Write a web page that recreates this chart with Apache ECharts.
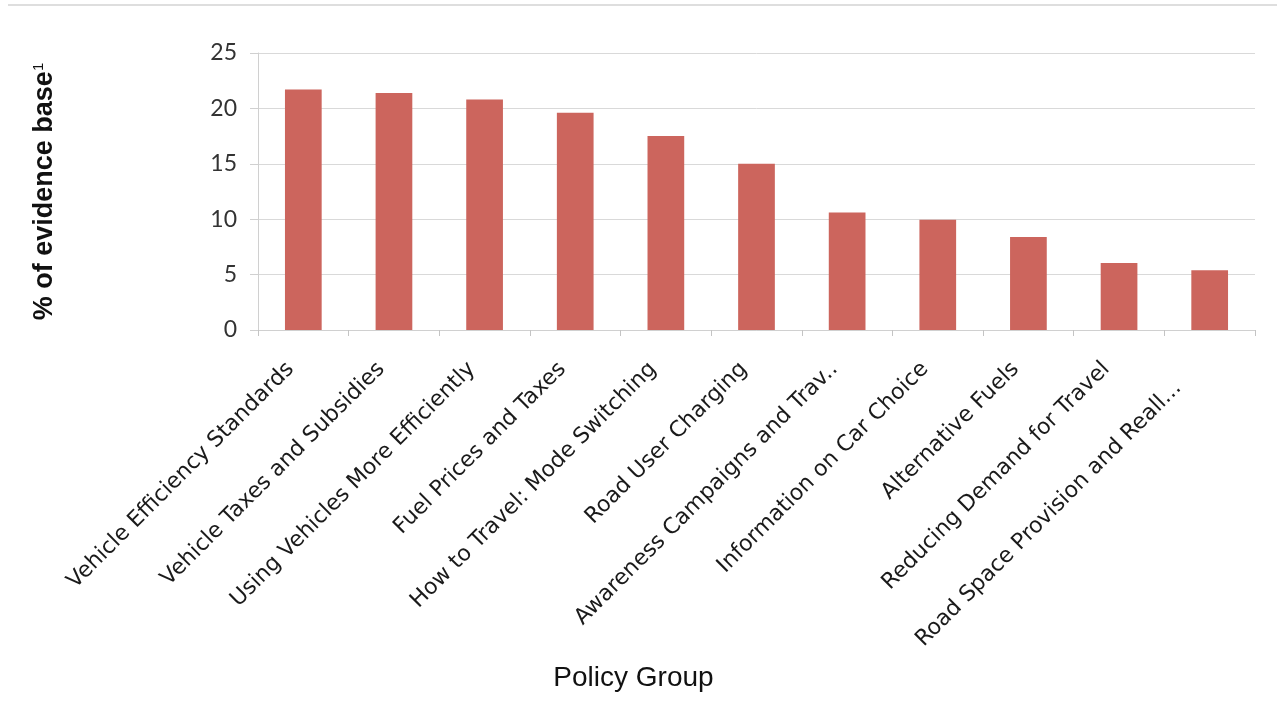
<!DOCTYPE html>
<html>
<head>
<meta charset="utf-8">
<script src="https://cdn.jsdelivr.net/npm/echarts@6/dist/echarts.min.js"></script>
<style>
  html, body { margin: 0; padding: 0; background: #ffffff; }
  #chart { width: 1277px; height: 713px; }
</style>
</head>
<body>
<div id="chart"></div>
<script>
// Policy groups (as labelled on the axis)
const categories = [
  'Vehicle Efficiency Standards',
  'Vehicle Taxes and Subsidies',
  'Using Vehicles More Efficiently',
  'Fuel Prices and Taxes',
  'How to Travel: Mode Switching',
  'Road User Charging',
  'Awareness Campaigns and Trav..',
  'Information on Car Choice',
  'Alternative Fuels',
  'Reducing Demand for Travel',
  'Road Space Provision and Reall...'
];

// Share of the evidence base per policy group (%)
const evidenceShare = [21.7, 21.4, 20.8, 19.6, 17.5, 15.0, 10.6, 9.95, 8.4, 6.05, 5.4];

// Value axis ticks
const yTicks = [0, 5, 10, 15, 20, 25];

// The last (truncated) label sits a little lower along its slant
const categoryItems = categories.map((name, i) => (
  i === categories.length - 1
    ? { value: name, textStyle: { padding: [6, 45, 0, 0] } }
    : { value: name }
));

const chart = echarts.init(document.getElementById('chart'));

chart.setOption({
  backgroundColor: '#ffffff',
  animation: false,
  grid: {
    left: 258,
    right: 22,
    top: 53,
    bottom: 383,
    containLabel: false,
    outerBoundsMode: 'none'
  },
  graphic: [{
    type: 'line',
    shape: { x1: 8, y1: 5, x2: 1277, y2: 5 },
    style: { stroke: '#dedede', lineWidth: 2 },
    silent: true
  }],
  xAxis: {
    type: 'category',
    data: categoryItems,
    name: 'Policy Group',
    nameLocation: 'middle',
    nameGap: 334,
    nameTextStyle: {
      fontFamily: 'Liberation Sans',
      fontSize: 28,
      color: '#111111',
      padding: [0, 246, 0, 0]
    },
    axisLine: { lineStyle: { color: '#d0d0d0', width: 1 } },
    axisTick: {
      show: true,
      alignWithLabel: false,
      length: 6,
      lineStyle: { color: '#c4c4c4' }
    },
    axisLabel: {
      interval: 0,
      rotate: 45,
      margin: 23,
      padding: [0, 18, 0, 0],
      fontFamily: 'DejaVu Sans',
      fontSize: 22,
      color: '#1a1a1a'
    },
    splitLine: { show: false }
  },
  yAxis: {
    type: 'value',
    min: yTicks[0],
    max: yTicks[yTicks.length - 1],
    interval: 5,
    name: '{a|% of evidence base}{s|1}',
    nameLocation: 'middle',
    nameRotate: 90,
    nameGap: 200,
    nameTextStyle: {
      color: '#111111',
      rich: {
        a: {
          fontFamily: 'Liberation Sans',
          fontWeight: 'bold',
          fontSize: 27,
          color: '#111111'
        },
        s: {
          fontFamily: 'Liberation Sans',
          fontSize: 15,
          color: '#111111',
          verticalAlign: 'top'
        }
      }
    },
    axisLine: { show: true, lineStyle: { color: '#d0d0d0', width: 1 } },
    axisTick: { show: true, length: 8, lineStyle: { color: '#d0d0d0' } },
    axisLabel: {
      margin: 21,
      fontFamily: 'Lato',
      fontSize: 23,
      color: '#333333'
    },
    splitLine: { show: true, lineStyle: { color: '#d9d9d9', width: 1 } }
  },
  series: [{
    type: 'bar',
    data: evidenceShare,
    barWidth: '40.5%',
    itemStyle: { color: '#cc655d' }
  }]
});
</script>
</body>
</html>
